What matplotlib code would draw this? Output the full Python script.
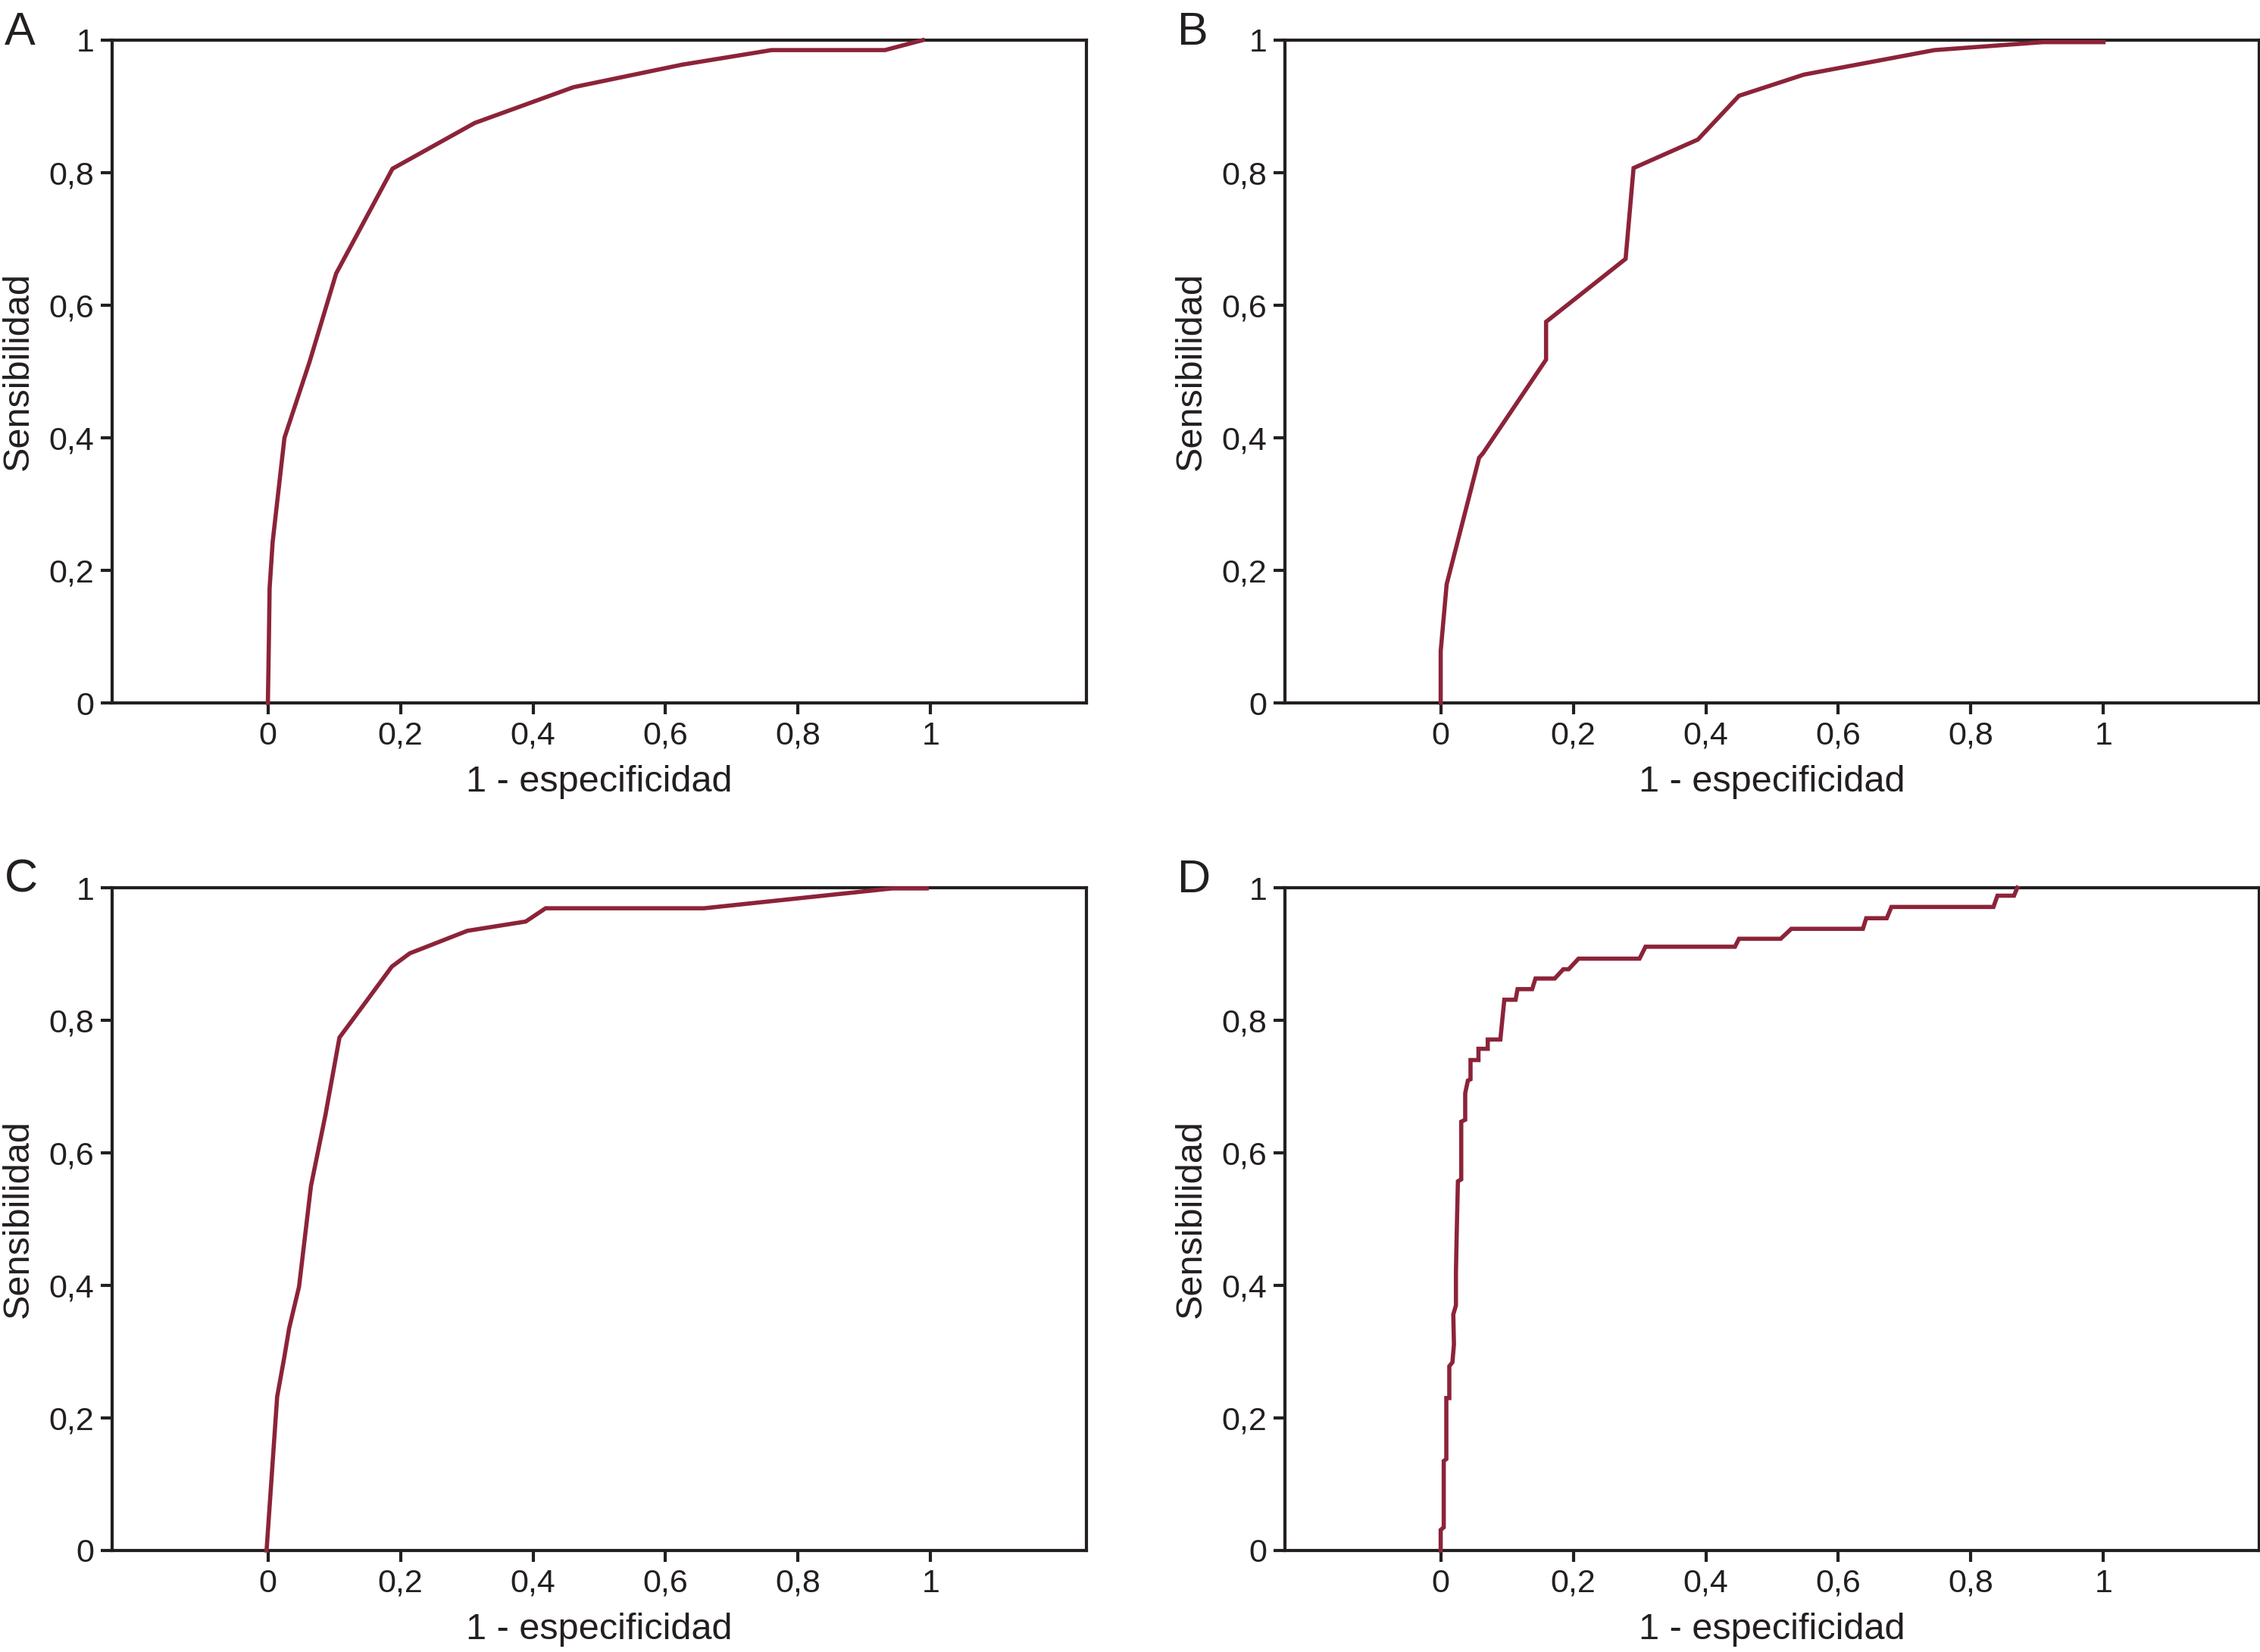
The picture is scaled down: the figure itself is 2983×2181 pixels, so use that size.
import numpy as np
import matplotlib.pyplot as plt

plt.rcParams['font.family'] = ['Liberation Sans', 'DejaVu Sans']

# panel A
fpr_a = [0.0, 0.0015, 0.0026, 0.0072, 0.025, 0.063, 0.103, 0.188, 0.312, 0.461, 0.625, 0.76, 0.931, 0.988]
tpr_a = [0.0, 0.093, 0.173, 0.243, 0.40, 0.515, 0.648, 0.806, 0.875, 0.929, 0.963, 0.985, 0.985, 1.0]

# panel B
fpr_b = [0.0, 0.0, 0.009, 0.058, 0.064, 0.159, 0.159, 0.279, 0.291, 0.388, 0.45, 0.548, 0.745, 0.909, 1.0]
tpr_b = [0.0, 0.078, 0.179, 0.370, 0.377, 0.518, 0.575, 0.670, 0.807, 0.850, 0.916, 0.948, 0.985, 0.997, 0.997]

# panel C
fpr_c = [-0.002, 0.014, 0.025, 0.032, 0.047, 0.065, 0.087, 0.108, 0.148, 0.187, 0.214, 0.301, 0.389, 0.419, 0.658, 0.942, 0.994]
tpr_c = [0.0, 0.232, 0.293, 0.335, 0.398, 0.55, 0.658, 0.774, 0.828, 0.881, 0.901, 0.935, 0.949, 0.969, 0.969, 0.999, 0.999]

# panel D (escalonada)
fpr_d = [0.0, 0.0, 0.0046, 0.0046, 0.0085, 0.0085, 0.013, 0.013, 0.0177, 0.02, 0.019, 0.023, 0.023, 0.024,
         0.025, 0.026, 0.031, 0.031, 0.037, 0.037, 0.041, 0.045, 0.045, 0.057, 0.057, 0.071, 0.071, 0.09,
         0.096, 0.113, 0.116, 0.138, 0.143, 0.172, 0.185, 0.193, 0.208, 0.300, 0.309, 0.444, 0.45, 0.513,
         0.529, 0.637, 0.642, 0.673, 0.68, 0.834, 0.84, 0.865, 0.87]
tpr_d = [0.0, 0.031, 0.035, 0.135, 0.138, 0.23, 0.23, 0.278, 0.284, 0.311, 0.356, 0.37, 0.42, 0.47,
         0.515, 0.557, 0.56, 0.647, 0.65, 0.69, 0.709, 0.711, 0.74, 0.74, 0.757, 0.757, 0.771, 0.771,
         0.831, 0.831, 0.847, 0.847, 0.863, 0.863, 0.877, 0.877, 0.893, 0.893, 0.911, 0.911, 0.923, 0.923,
         0.938, 0.938, 0.954, 0.954, 0.971, 0.971, 0.988, 0.988, 1.0]

letras = ['A', 'B', 'C', 'D']
curvas = [(fpr_a, tpr_a), (fpr_b, tpr_b), (fpr_c, tpr_c), (fpr_d, tpr_d)]
ticks = [0, 0.2, 0.4, 0.6, 0.8, 1]
tick_labels = ['0', '0,2', '0,4', '0,6', '0,8', '1']

color_linea = '#8c2339'
negro = '#231f20'

fig = plt.figure(figsize=(29.83, 21.81), dpi=100)

W, H = 2983, 2181
pos = [(148, 53), (1696, 53), (148, 1172), (1696, 1172)]
aw, ah = 1286, 875

for k in range(4):
    x0, y0 = pos[k]
    ax = fig.add_axes([x0 / W, 1 - (y0 + ah) / H, aw / W, ah / H])
    fx, ty = curvas[k]
    ax.plot(fx, ty, color=color_linea, lw=4, solid_joinstyle='miter', clip_on=False, zorder=3)
    ax.set_xlim(-0.235, 1.235)
    ax.set_ylim(0, 1)
    ax.set_xticks(ticks)
    ax.set_xticklabels(tick_labels)
    ax.set_yticks(ticks)
    ax.set_yticklabels(tick_labels)
    for s in ax.spines.values():
        s.set_linewidth(3)
        s.set_color(negro)
    ax.tick_params(direction='out', length=11, width=3, color=negro,
                   labelsize=31, labelcolor=negro, pad=6)
    ax.set_xlabel('1 - especificidad', fontsize=35, color=negro)
    ax.set_ylabel('Sensibilidad', fontsize=35, color=negro)
    ax.xaxis.set_label_coords(0.5, -0.094)
    ax.yaxis.set_label_coords(-0.079, 0.5)
    fig.text((x0 - 142) / W, 1 - (y0 - 38) / H, letras[k], fontsize=44, color=negro,
             ha='left', va='top')

fig.savefig('out.png', dpi=100)
